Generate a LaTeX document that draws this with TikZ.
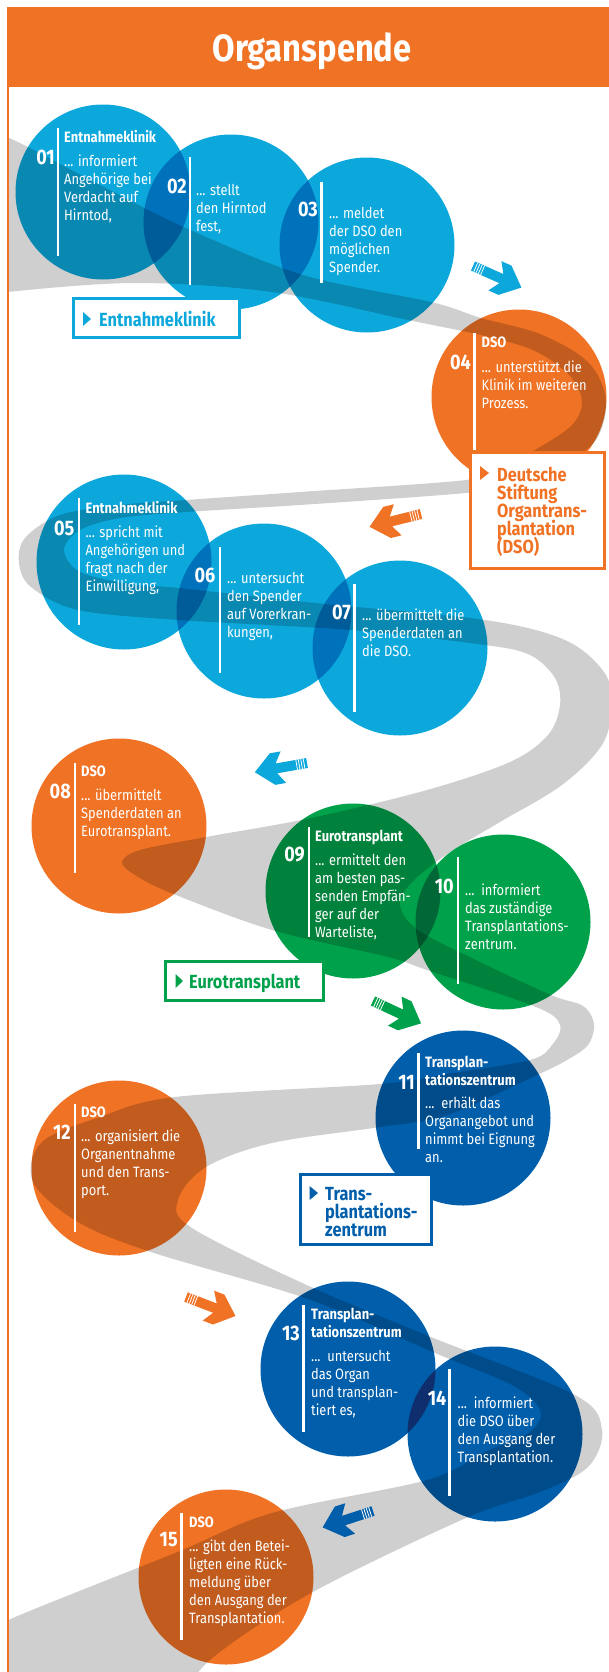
\documentclass[tikz,border=0pt]{standalone}
\usepackage{fontspec}
\setmainfont{Fira Sans}[FakeStretch=0.86]
\usepackage{tikz}
\usetikzlibrary{positioning}

\definecolor{klinik}{RGB}{12,168,220}
\definecolor{klinikdunkel}{RGB}{0,114,188}
\definecolor{dso}{RGB}{240,114,37}
\definecolor{euro}{RGB}{0,161,75}
\definecolor{eurodunkel}{RGB}{0,104,55}
\definecolor{zentrum}{RGB}{0,94,170}
\definecolor{zentrumdunkel}{RGB}{14,46,110}

\newcommand{\fliess}{\fontsize{15bp}{18bp}\selectfont\lineskiplimit=-20bp}
\newcommand{\nrfont}{\fontsize{21bp}{21bp}\selectfont\bfseries}
\newcommand{\kastenfont}{\fontsize{19bp}{18bp}\selectfont\bfseries\lineskiplimit=-20bp}

\tikzset{
  nummer/.style={anchor=east, inner sep=0, text=white, font=\nrfont},
  inhalt/.style={anchor=north west, inner sep=0, align=left, text=white, font=\fliess},
  balken/.style={white, line width=2.5bp},
  kasten/.style={draw=#1, line width=3bp, fill=white},
  kastentext/.style={inner sep=0, text=#1, font=\kastenfont, align=left},
  strasse/.style={fill=black, fill opacity=.19},
  pfeil/.pic={
    \fill[#1] (0,-5) -- (31,-5) -- (24,-16) -- (35,-16) -- (53,0) -- (35,16) -- (24,16) -- (31,5) -- (0,5) -- cycle;
    \foreach \s in {3,5.5,8,10.5} \draw[white, line width=.8bp] (\s,-5) -- (\s,5);
  }
}

\begin{document}
\begin{tikzpicture}[x=1bp, y=-1bp]
    \useasboundingbox (0,0) rectangle (609,1672);

    % header and frame
    \fill[dso] (7,7) rectangle (609,87);
    \fill[dso] (6.5,87) rectangle (9,1672);
    \node[anchor=base, inner sep=0, text=white, font=\fontsize{38bp}{40bp}\selectfont\bfseries] (titel) at (312,62) {Organspende};

    % circles
    \fill[klinik] (103,192) circle (87.5);
    \fill[klinik] (231,222) circle (87.5);
    \fill[klinik] (367,245) circle (87.5);
    \fill[dso] (519,397) circle (87.5);
    \fill[klinik] (124,562) circle (87.5);
    \fill[klinik] (264,611) circle (87.5);
    \fill[klinik] (400,648) circle (87.5);
    \fill[dso] (119,826) circle (87.5);
    \fill[euro] (353,891) circle (87.5);
    \fill[euro] (503,922) circle (87.5);
    \fill[zentrum] (463,1118) circle (87.5);
    \fill[dso] (119,1168) circle (87.5);
    \fill[zentrum] (348,1369) circle (87.5);
    \fill[zentrum] (495,1434) circle (87.5);
    \fill[dso] (226,1577) circle (87.5);

    % overlaps
    \begin{scope}
        \clip (103,192) circle (87.5);
        \fill[klinikdunkel] (231,222) circle (87.5);
    \end{scope}
    \begin{scope}
        \clip (231,222) circle (87.5);
        \fill[klinikdunkel] (367,245) circle (87.5);
    \end{scope}
    \begin{scope}
        \clip (124,562) circle (87.5);
        \fill[klinikdunkel] (264,611) circle (87.5);
    \end{scope}
    \begin{scope}
        \clip (264,611) circle (87.5);
        \fill[klinikdunkel] (400,648) circle (87.5);
    \end{scope}
    \begin{scope}
        \clip (353,891) circle (87.5);
        \fill[eurodunkel] (503,922) circle (87.5);
    \end{scope}
    \begin{scope}
        \clip (348,1369) circle (87.5);
        \fill[zentrumdunkel] (495,1434) circle (87.5);
    \end{scope}

    % road
    \begin{scope}
        \clip (9,87) rectangle (609,1672);
        \fill[strasse] plot[smooth cycle, tension=.55] coordinates {
            (-40,125) (7,137) (100,185) (186,228) (303,275) (431,302) (481,318)
            (540,334) (588,362) (606,400) (596,440) (560,466) (510,485) (466,493)
            (300,505) (186,512) (120,518) (80,530) (64,550) (80,572) (130,584)
            (179,588) (315,603) (485,620) (565,640) (604,672) (612,705) (602,745)
            (562,785) (500,822) (450,852) (412,882) (400,905) (418,930) (480,962)
            (551,995) (583,1006) (594,1024) (588,1045) (567,1060) (537,1075)
            (447,1115) (380,1127) (272,1143) (206,1167) (178,1200) (192,1228) (311,1287)
            (431,1337) (575,1395) (602,1430) (588,1467) (540,1492) (466,1518)
            (311,1593) (210,1660) (185,1700) (150,1760) (-60,1760)
            (-50,1650) (8,1620) (175,1553) (272,1513) (427,1480) (485,1452)
            (530,1432) (540,1410) (512,1385) (435,1353) (311,1300) (151,1252)
            (78,1222) (33,1182) (42,1142) (100,1117) (175,1097) (380,1084)
            (447,1074) (530,1060) (552,1045) (560,1025) (536,1007) (427,970) (388,957)
            (272,930) (171,893) (135,875) (122,862) (140,850) (206,837)
            (311,818) (427,790) (510,762) (548,735) (560,705) (555,678)
            (530,655) (485,645) (350,630) (179,620) (78,610) (31,587) (19,563)
            (25,538) (60,515) (120,505) (186,500) (300,492) (466,480) (500,468)
            (540,447) (572,425) (582,402) (570,376) (535,351) (485,336)
            (408,320) (272,292) (136,283) (7,292) (-40,300)};
    \end{scope}

    % bars
    \draw[balken] (58,128) -- (58,256);
    \draw[balken] (190,157) -- (190,285);
    \draw[balken] (321.5,182) -- (321.5,283);
    \draw[balken] (474.6,333) -- (474.6,450);
    \draw[balken] (79,498) -- (79,625);
    \draw[balken] (220,547) -- (220,673);
    \draw[balken] (354.6,584) -- (354.6,712);
    \draw[balken] (75,763) -- (75,873);
    \draw[balken] (309,827) -- (309,937);
    \draw[balken] (458,857) -- (458,984);
    \draw[balken] (418.6,1053) -- (418.6,1149);
    \draw[balken] (75,1104) -- (75,1232);
    \draw[balken] (303.7,1305) -- (303.7,1432);
    \draw[balken] (449.7,1369) -- (449.7,1496);
    \draw[balken] (181.7,1513) -- (181.7,1640);

    % numbers
    \node[nummer] (n01) at (55,157) {01};
    \node[nummer] (n02) at (187,186) {02};
    \node[nummer] (n03) at (318,209) {03};
    \node[nummer] (n04) at (471,362) {04};
    \node[nummer] (n05) at (74.6,528) {05};
    \node[nummer] (n06) at (215.5,575) {06};
    \node[nummer] (n07) at (351,612) {07};
    \node[nummer] (n08) at (71,791) {08};
    \node[nummer] (n09) at (305,855) {09};
    \node[nummer] (n10) at (454,886) {10};
    \node[nummer] (n11) at (415,1082) {11};
    \node[nummer] (n12) at (71,1132) {12};
    \node[nummer] (n13) at (300,1333) {13};
    \node[nummer] (n14) at (446.6,1398) {14};
    \node[nummer] (n15) at (178,1540) {15};

    % texts
    \node[inhalt] (t01) at (64,130) {\strut\textbf{Entnahmeklinik}\\[6bp] ... informiert\\Angehörige bei\\Verdacht auf\\Hirntod,};
    \node[inhalt] (t02) at (196,183) {\strut ... stellt\\den Hirntod\\fest,};
    \node[inhalt] (t03) at (329,206) {\strut ... meldet\\der DSO den\\möglichen\\Spender.};
    \node[inhalt] (t04) at (481.5,335) {\strut\textbf{DSO}\\[7bp] ... unterstützt die\\Klinik im weiteren\\Prozess.};
    \node[inhalt] (t05) at (85.4,501) {\strut\textbf{Entnahmeklinik}\\[6bp] ... spricht mit\\Angehörigen und\\fragt nach der\\Einwilligung,};
    \node[inhalt] (t06) at (227,571) {\strut ... untersucht\\den Spender\\auf Vorerkran-\\kungen,};
    \node[inhalt] (t07) at (362,608) {\strut ... übermittelt die\\Spenderdaten an\\die DSO.};
    \node[inhalt] (t08) at (81,764) {\strut\textbf{DSO}\\[6bp] ... übermittelt\\Spenderdaten an\\Eurotransplant.};
    \node[inhalt] (t09) at (315,829) {\strut\textbf{Eurotransplant}\\[6bp] ... ermittelt den\\am besten pas-\\senden Empfän-\\ger auf der\\Warteliste,};
    \node[inhalt] (t10) at (465,883) {\strut ...\ \ informiert\\das zuständige\\Transplantations-\\zentrum.};
    \node[inhalt] (t11) at (425,1055) {\strut\textbf{Transplan-}\\\textbf{tationszentrum}\\[5bp] ...\ \ erhält das\\Organangebot und\\nimmt bei Eignung\\an.};
    \node[inhalt] (t12) at (81,1105) {\strut\textbf{DSO}\\[6bp] ... organisiert die\\Organentnahme\\und den Trans-\\port.};
    \node[inhalt] (t13) at (311,1307) {\strut\textbf{Transplan-}\\\textbf{tationszentrum}\\[6bp] ...\ \ untersucht\\das Organ\\und transplan-\\tiert es,};
    \node[inhalt] (t14) at (457.5,1396) {\strut ...\ \ informiert\\die DSO über\\den Ausgang der\\Transplantation.};
    \node[inhalt] (t15) at (189,1515) {\strut\textbf{DSO}\\[6bp] ... gibt den Betei-\\ligten eine Rück-\\meldung über\\den Ausgang der\\Transplantation.};

    % label boxes
    \draw[kasten=klinik] (73,298) rectangle (239,337);
    \fill[klinik] (83,312) -- (83,326) -- (91,319) -- cycle;
    \node[kastentext=klinik, anchor=base west] (lklinik) at (99,326) {Entnahmeklinik};

    \draw[kasten=dso] (470,452) rectangle (604,568);
    \fill[dso] (480,466) -- (480,480) -- (489,473) -- cycle;
    \node[kastentext=dso, anchor=north west] (ldso) at (497,467) {\strut Deutsche\\Stiftung\\Organtrans-\\plantation\\(DSO)};

    \draw[kasten=euro] (165,961) rectangle (323,1000);
    \fill[euro] (175.5,974) -- (175.5,988) -- (183,981) -- cycle;
    \node[kastentext=euro, anchor=base west] (leuro) at (189,988) {Eurotransplant};

    \draw[kasten=zentrum] (300,1174) rectangle (431,1244);
    \fill[zentrum] (309.5,1186) -- (309.5,1200) -- (318,1193) -- cycle;
    \node[kastentext=zentrum, anchor=north west] (lzentrum) at (325,1187) {\strut Trans-\\plantations-\\zentrum};

    % arrows
    \pic[rotate=-24] at (473,266) {pfeil=klinik};
    \pic[rotate=-166] at (421,514) {pfeil=dso};
    \pic[rotate=-170] at (307,763) {pfeil=klinik};
    \pic[rotate=-25] at (373,1001) {pfeil=euro};
    \pic[rotate=-21] at (186,1297) {pfeil=dso};
    \pic[rotate=-162] at (373,1511) {pfeil=zentrum};
\end{tikzpicture}
\end{document}
